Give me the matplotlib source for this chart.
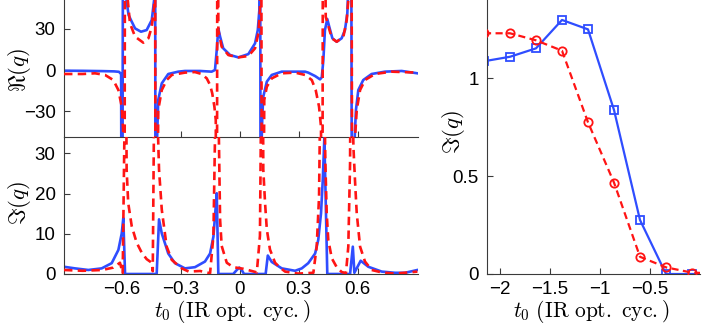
import matplotlib
matplotlib.use("Agg")
import matplotlib.pyplot as plt
import numpy as np

plt.rcParams['font.family'] = ['Liberation Sans', 'DejaVu Sans']
plt.rcParams['mathtext.fontset'] = 'cm'
plt.rcParams['axes.unicode_minus'] = True

# ---------------- data: left panels (t0 in IR optical cycles) ----------------
# Real part of q, solid (blue) curve
re_blue_t = [-0.895, -0.80, -0.70, -0.64, -0.615, -0.604, -0.600, -0.592, -0.578, -0.566, -0.554,
             -0.533, -0.503, -0.474, -0.448, -0.436, -0.432, -0.428, -0.423, -0.415, -0.397, -0.364,
             -0.313, -0.279, -0.202, -0.143, -0.126, -0.117, -0.109, -0.100, -0.084, -0.049, -0.007,
             0.044, 0.078, 0.092, 0.100, 0.104, 0.108, 0.112, 0.115, 0.120, 0.138, 0.163, 0.214,
             0.333, 0.349, 0.384, 0.409, 0.418, 0.426, 0.434, 0.446, 0.456, 0.472, 0.494, 0.519,
             0.536, 0.548, 0.556, 0.565, 0.574, 0.582, 0.592, 0.604, 0.629, 0.672, 0.740, 0.825, 0.905]
re_blue_q = [-0.5, -0.6, -0.8, -1.0, -1.3, -3.0, -300, 300, 52, 40, 36.4,
             30.3, 27.9, 29.1, 36.4, 51, 300, -300, -60, -21.8, -9.7, -2.9,
             -1.2, -0.7, -0.7, -1.2, 0.0, 14.6, 30.3, 24.3, 15.8, 10.9, 9.2,
             11.6, 19.4, 29.1, 43.7, 120, -300, -50, -34, -19.4, -8.5, -3.6, -1.2,
             -1.2, -1.9, -4.4, -6.8, -5.3, 7.3, 29.1, 37.1, 31.5, 23.1, 20.6, 23.1,
             29.1, 41.3, 70, 300, -300, -60, -29.1, -14.6, -7.3, -2.9, -1.2, -0.7, -2.4]

# Real part of q, dashed (red) curve
re_red_t = [-0.895, -0.80, -0.737, -0.686, -0.644, -0.618, -0.601, -0.593, -0.588, -0.583, -0.576,
            -0.559, -0.533, -0.491, -0.465, -0.448, -0.436, -0.432, -0.428, -0.415, -0.397, -0.372,
            -0.346, -0.279, -0.228, -0.194, -0.168, -0.151, -0.140, -0.129, -0.122, -0.117, -0.113,
            -0.109, -0.092, -0.058, -0.007, 0.044, 0.078, 0.095, 0.103, 0.108, 0.114, 0.125, 0.138,
            0.163, 0.214, 0.282, 0.333, 0.367, 0.387, 0.404, 0.414, 0.420, 0.425, 0.438, 0.469,
            0.494, 0.528, 0.545, 0.558, 0.566, 0.576, 0.587, 0.596, 0.613, 0.638, 0.689, 0.774, 0.905]
re_red_q = [-2.9, -2.9, -2.4, -3.6, -7.3, -14.6, -26.7, -46, -300, 300, 60,
            34, 24.3, 19.9, 23.1, 31.5, 46, 300, -300, -29, -14.6, -7.3,
            -3.6, -1.9, -1.5, -2.9, -6.1, -10.9, -17, -26.7, -36.4, -300, 300,
            29.1, 17, 10.9, 9.2, 10.2, 15.8, 26.7, 43.7, 300, -300, -21.8, -12.2,
            -6.1, -2.4, -1.9, -3.6, -7.3, -14.6, -26.7, -41.3, -300, 300, 38.8, 23.1,
            20.6, 24.3, 36.4, 60, 300, -300, -50, -29.1, -14.6, -7.3, -2.9, -1.2, -1.9]

# Imaginary part of q, solid (blue) curve
im_blue_t = [-0.895, -0.839, -0.771, -0.703, -0.652, -0.618, -0.601, -0.593, -0.584, -0.423, -0.411,
             -0.397, -0.364, -0.330, -0.279, -0.228, -0.177, -0.151, -0.134, -0.126, -0.117, -0.109,
             -0.033, -0.015, -0.002, 0.010, 0.022, 0.132, 0.143, 0.163, 0.214, 0.282, 0.316, 0.349,
             0.384, 0.400, 0.414, 0.423, 0.431, 0.446, 0.562, 0.576, 0.584, 0.616, 0.655, 0.723,
             0.791, 0.842, 0.905]
im_blue_q = [1.8, 1.4, 1.0, 1.4, 2.7, 6.0, 10.1, 13.9, 0.0, 0.0, 13.6,
             10.1, 5.1, 2.7, 1.4, 1.7, 3.1, 5.1, 9.3, 14.3, 20.1, 0.0,
             0.0, 1.0, 1.6, 1.0, 0.0, 0.0, 4.6, 3.0, 1.4, 0.8, 1.4, 2.7,
             5.1, 8.5, 15.1, 23.4, 33.8, 0.0, 0.0, 6.8, 0.3, 3.3, 1.8, 0.6,
             0.3, 0.3, 1.0]

# Imaginary part of q, dashed (red) curve
im_red_t = [-0.895, -0.80, -0.70, -0.644, -0.610, -0.596, -0.587, -0.583, -0.580, -0.576, -0.568,
            -0.550, -0.525, -0.499, -0.474, -0.448, -0.443, -0.437, -0.434, -0.431, -0.411, -0.397,
            -0.372, -0.346, -0.295, -0.260, -0.202, -0.151, -0.134, -0.124, -0.119, -0.114, -0.100,
            -0.092, -0.066, -0.033, 0.018, 0.061, 0.087, 0.103, 0.112, 0.116, 0.120, 0.129, 0.138,
            0.154, 0.180, 0.205, 0.231, 0.297, 0.375, 0.392, 0.404, 0.414, 0.419, 0.425, 0.436,
            0.443, 0.451, 0.469, 0.494, 0.519, 0.541, 0.553, 0.562, 0.567, 0.572, 0.579, 0.587,
            0.596, 0.613, 0.638, 0.672, 0.723, 0.791, 0.905]
im_red_q = [1.0, 0.8, 1.0, 1.6, 2.8, 0.2, 36, 80, 60, 26, 17.7,
            11.9, 7.8, 5.3, 3.7, 2.8, 0.7, 36, 80, 60, 26, 16,
            6.8, 3.5, 1.4, 0.6, 0.75, 0.2, 9.5, 40, 80, 60, 13.6,
            7.0, 2.8, 1.7, 1.3, 0.75, 0.4, 9.5, 60, 80, 26, 17.7, 11.1,
            6.1, 2.8, 1.6, 0.6, 0.1, 0.3, 6.8, 19.2, 60, 80, 70, 28,
            15.1, 8.5, 3.9, 1.7, 0.5, 0.2, 6.8, 27.5, 80, 60, 31.7, 23.4,
            15.1, 6.8, 3.1, 1.0, 0.4, 0.1, 0.6]

left_xticks = [-0.6, -0.3, 0, 0.3, 0.6]
left_xticklabels = ['\u22120.6', '\u22120.3', '0', '0.3', '0.6']
re_yticks = [-30, 0, 30]
re_yticklabels = ['\u221230', '0', '30']
im_yticks = [0, 10, 20, 30]

# ---------------- data: right panel ----------------
r_t = [-2.16, -1.90, -1.64, -1.38, -1.12, -0.86, -0.60, -0.34, -0.08, 0.18]
r_blue = [1.087, 1.11, 1.153, 1.298, 1.25, 0.838, 0.276, 0.0, 0.0, 0.0]
r_red = [1.23, 1.23, 1.194, 1.141, 0.775, 0.467, 0.088, 0.034, 0.007, 0.003]
right_xticks = [-2, -1.5, -1, -0.5]
right_xticklabels = ['\u22122', '\u22121.5', '\u22121', '\u22120.5']
right_yticks = [0, 0.5, 1]
right_yticklabels = ['0', '0.5', '1']

# ---------------- styling ----------------
BLUE = '#2f4dff'
RED = '#ff1414'
SPINE = '#3a3a3a'
TICKFS = 13.5
LABFS = 16.5
XLABFS = 15.5
xlabel = r'$t_0\ \mathrm{(IR\ opt.\ cyc.)}$'

fig = plt.figure(figsize=(7.06, 3.24), dpi=100)

W, H = 706.0, 324.0
def frac(x0, y0, x1, y1):
    return [x0 / W, 1 - y1 / H, (x1 - x0) / W, (y1 - y0) / H]

ax_re = fig.add_axes(frac(64, 0, 418, 137))
ax_im = fig.add_axes(frac(64, 137, 418, 274))
ax_r = fig.add_axes(frac(487, 0, 700, 274))

def style(ax):
    for s in ['top', 'right']:
        ax.spines[s].set_visible(False)
    for s in ['left', 'bottom']:
        ax.spines[s].set_color(SPINE)
        ax.spines[s].set_linewidth(0.8)
    ax.tick_params(direction='in', length=4, width=0.8, color=SPINE,
                   labelsize=TICKFS)
    ax.tick_params(axis='x', pad=5)
    ax.tick_params(axis='y', pad=6)
    ax.set_facecolor('none')

dash = (0, (3.2, 2.0))
LW = 1.9

# top-left: Re(q)
ax_re.plot(re_red_t, re_red_q, color=RED, lw=LW, linestyle=dash, zorder=3)
ax_re.plot(re_blue_t, re_blue_q, color=BLUE, lw=LW, zorder=2)
ax_re.set_xlim(-0.895, 0.908)
ax_re.set_ylim(-48.8, 51)
ax_re.set_xticks(left_xticks)
ax_re.set_xticklabels([])
ax_re.set_yticks(re_yticks)
ax_re.set_yticklabels(re_yticklabels)
style(ax_re)
ax_re.set_ylabel(r'$\Re(q)$', fontsize=LABFS)
ax_re.yaxis.set_label_coords(-0.088, 0.49)

# bottom-left: Im(q)
ax_im.plot(im_red_t, im_red_q, color=RED, lw=LW, linestyle=dash, zorder=3)
ax_im.plot(im_blue_t, im_blue_q, color=BLUE, lw=LW, zorder=2)
ax_im.set_xlim(-0.895, 0.908)
ax_im.set_ylim(0, 34.1)
ax_im.set_xticks(left_xticks)
ax_im.set_xticklabels(left_xticklabels)
ax_im.set_yticks(im_yticks)
style(ax_im)
ax_im.set_ylabel(r'$\Im(q)$', fontsize=LABFS)
ax_im.yaxis.set_label_coords(-0.088, 0.52)
ax_im.set_xlabel(xlabel, fontsize=XLABFS, labelpad=0)
ax_im.xaxis.set_label_coords(0.475, -0.172)

# right panel
ax_r.plot(r_t, r_red, color=RED, lw=1.6, linestyle=dash, marker='o', ms=6,
          mfc='none', mec=RED, mew=1.3, zorder=3)
ax_r.plot(r_t, r_blue, color=BLUE, lw=1.6, marker='s', ms=5.5,
          mfc='none', mec=BLUE, mew=1.3, zorder=2)
ax_r.set_xlim(-2.13, 0.0)
ax_r.set_ylim(0, 1.40)
ax_r.set_xticks(right_xticks)
ax_r.set_xticklabels(right_xticklabels)
ax_r.set_yticks(right_yticks)
ax_r.set_yticklabels(right_yticklabels)
style(ax_r)
ax_r.set_ylabel(r'$\Im(q)$', fontsize=LABFS)
ax_r.yaxis.set_label_coords(-0.095, 0.52)
ax_r.set_xlabel(xlabel, fontsize=XLABFS, labelpad=0)
ax_r.xaxis.set_label_coords(0.49, -0.086)

fig.savefig('out.png', dpi=100)
